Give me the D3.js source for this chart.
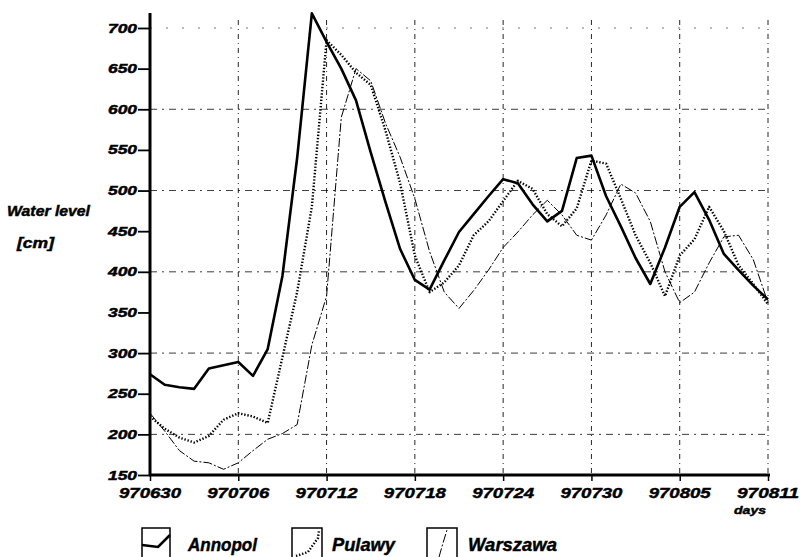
<!DOCTYPE html>
<html>
<head>
<meta charset="utf-8">
<script src="https://cdn.jsdelivr.net/npm/d3@7"></script>
<style>
body { margin: 0; background: #fff; }
text { font-family: "Liberation Sans", Arial, sans-serif; font-weight: bold; font-style: italic; fill: #000; stroke: #000; stroke-width: 0.45px; }
</style>
</head>
<body>
<div id="chart"></div>
<script>
(function(){

var width = 800,
	height = 557;

// data, one value per day from 970630 to 970811

var days = d3.range(0, 43);

var tickDays = [0, 6, 12, 18, 24, 30, 36, 42];
var tickLabels = ["970630","970706","970712","970718","970724","970730","970805","970811"];

var yTicks = [150, 200, 250, 300, 350, 400, 450, 500, 550, 600, 650, 700];
var yGrid = [200, 300, 400, 500, 600, 700];

var annopol = [274, 261, 258, 256, 281, 285, 289, 272, 305, 395, 540, 718, 683, 650, 611, 547, 486, 428, 390, 378,
	414, 449, 471, 493, 514, 509, 483, 462, 475, 540, 543, 493, 456, 417, 385, 430, 480, 498, 464, 422,
	402, 383, 366];

var pulawy = [222, 207, 196, 190, 198, 218, 226, 222, 214, 295, 375, 480, 685, 667, 645, 630, 574, 509, 420, 375,
	387, 408, 445, 462, 487, 512, 502, 471, 456, 478, 537, 533, 490, 445, 411, 370, 420, 440, 480, 450,
	408, 385, 360];

var warszawa = [226, 204, 180, 167, 165, 157, 165, 180, 194, 201, 212, 310, 370, 590, 650, 635, 583, 541, 490, 425,
	375, 355, 377, 402, 430, 449, 470, 488, 470, 445, 439, 470, 508, 497, 462, 400, 362, 375, 411, 443,
	445, 415, 362];

var seriesNames = ["Annopol", "Pulawy", "Warszawa"];

// line styles per series
var styles = [
	{width: 2.6, dash: null},
	{width: 2.4, dash: "1.4,1.8"},
	{width: 1, dash: "9,2,2,2"}
];

var X = d3.scaleLinear().domain([0, 42]).range([150, 768]);
var Y = d3.scaleLinear().domain([150, 700]).range([475, 28]);

var svg = d3.select("#chart").append("svg")
	.attr("width", width)
	.attr("height", height);

// grid
svg.selectAll(".hgrid").data(yGrid).enter().append("line")
	.attr("x1", X(0)).attr("x2", X(42))
	.attr("y1", function(d){ return Y(d) }).attr("y2", function(d){ return Y(d) })
	.style("stroke", "#000")
	.style("stroke-width", 0.9)
	.style("stroke-dasharray", function(d){ return d == 700 ? "2,14" : "7,5,2,5" })
	.style("opacity", function(d){ return d == 700 ? 0.6 : 0.85 });

svg.selectAll(".vgrid").data(tickDays.slice(1)).enter().append("line")
	.attr("x1", function(d){ return X(d) }).attr("x2", function(d){ return X(d) })
	.attr("y1", 20).attr("y2", Y(150))
	.style("stroke", "#000")
	.style("stroke-width", 1)
	.style("stroke-dasharray", "5,4,1,4")
	.style("opacity", 0.85);

// series
var line = d3.line()
	.x(function(d, i){ return X(days[i]) })
	.y(function(d){ return Y(d) });

[annopol, pulawy, warszawa].forEach(function(s, i){
	svg.append("path")
		.datum(s)
		.attr("d", line)
		.style("fill", "none")
		.style("stroke", "#000")
		.style("stroke-width", styles[i].width)
		.style("stroke-dasharray", styles[i].dash)
		.style("stroke-linejoin", "round");
});

// axes
var yAxis = d3.axisLeft(Y).tickValues(yTicks).tickSize(12).tickFormat("");
var xAxis = d3.axisBottom(X).tickValues(tickDays).tickSize(6).tickFormat("");

var ya = svg.append("g").attr("transform", "translate(" + X(0) + ",0)").call(yAxis);
ya.select(".domain").remove();
ya.selectAll(".tick line").style("stroke-width", 1.8);

var xa = svg.append("g").attr("transform", "translate(0," + Y(150) + ")").call(xAxis);
xa.select(".domain").remove();
xa.selectAll(".tick line").style("stroke-width", 1.5);

svg.append("line")
	.attr("x1", X(0)).attr("x2", X(0))
	.attr("y1", 13).attr("y2", Y(150) + 1)
	.style("stroke", "#000").style("stroke-width", 3);

svg.append("line")
	.attr("x1", X(0) - 1).attr("x2", X(42) + 2)
	.attr("y1", Y(150)).attr("y2", Y(150))
	.style("stroke", "#000").style("stroke-width", 3);

// tick labels
svg.selectAll(".ylab").data(yTicks).enter().append("text")
	.attr("x", 108)
	.attr("y", function(d){ return Y(d) + 4.5 })
	.attr("textLength", 29)
	.attr("lengthAdjust", "spacingAndGlyphs")
	.style("font-size", "12.5px")
	.text(function(d){ return d });

svg.selectAll(".xlab").data(tickDays).enter().append("text")
	.attr("x", function(d){ return X(d) - 31 })
	.attr("y", 498)
	.attr("textLength", 62)
	.attr("lengthAdjust", "spacingAndGlyphs")
	.style("font-size", "15px")
	.text(function(d, i){ return tickLabels[i] });

svg.append("text").attr("x", 734).attr("y", 514)
	.attr("textLength", 32).attr("lengthAdjust", "spacingAndGlyphs")
	.style("font-size", "11.5px").text("days");

svg.append("text").attr("x", 7).attr("y", 216)
	.attr("textLength", 83).attr("lengthAdjust", "spacingAndGlyphs")
	.style("font-size", "14px").text("Water level");

svg.append("text").attr("x", 17).attr("y", 248)
	.attr("textLength", 37).attr("lengthAdjust", "spacingAndGlyphs")
	.style("font-size", "14px").text("[cm]");

// legend
var legendX = [142, 292, 427],
	legendTextX = [188, 332, 468],
	legendTextW = [69, 63, 89];

// small sample of each line inside its box
var samples = [
	[[0, 17], [16, 19], [28, 7]],
	[[4, 28], [16, 24], [26, 10], [27, 2]],
	[[12, 29], [16, 15], [20, 2]]
];

var lg = svg.selectAll(".legend").data(seriesNames).enter().append("g")
	.attr("transform", function(d, i){ return "translate(" + legendX[i] + ",528)" });

lg.append("rect")
	.attr("x", 0).attr("y", 0)
	.attr("width", function(d, i){ return i == 0 ? 28 : 30 }).attr("height", 32)
	.style("fill", "none").style("stroke", "#000").style("stroke-width", 1.5);

lg.append("path")
	.attr("d", function(d, i){ return d3.line()(samples[i]) })
	.style("fill", "none").style("stroke", "#000")
	.style("stroke-width", function(d, i){ return styles[i].width })
	.style("stroke-dasharray", function(d, i){ return styles[i].dash });

svg.selectAll(".legtext").data(seriesNames).enter().append("text")
	.attr("x", function(d, i){ return legendTextX[i] })
	.attr("y", 551)
	.attr("textLength", function(d, i){ return legendTextW[i] })
	.attr("lengthAdjust", "spacingAndGlyphs")
	.style("font-size", "18px")
	.text(function(d){ return d });

})()
</script>
</body>
</html>
